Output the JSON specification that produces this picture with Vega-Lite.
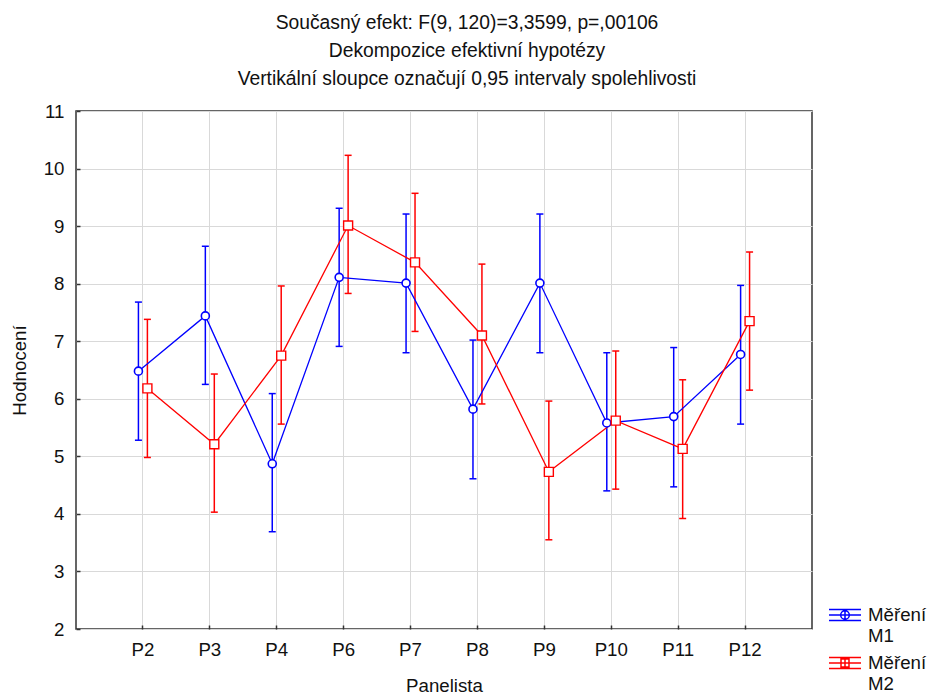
{
  "$schema": "https://vega.github.io/schema/vega-lite/v6.json",
  "width": 736,
  "height": 518,
  "autosize": {"type": "none"},
  "padding": {"left": 76, "top": 111, "right": 119, "bottom": 68},
  "background": "white",
  "config": {
    "font": "Liberation Sans",
    "view": {"stroke": "#333333", "strokeWidth": 1.5},
    "axis": {
      "domain": false,
      "gridColor": "#d9d9d9",
      "gridWidth": 1,
      "labelFontSize": 18.7,
      "labelColor": "#111111",
      "titleFontSize": 18.7,
      "titleFontWeight": "normal",
      "titleColor": "#111111",
      "tickColor": "#333333",
      "tickSize": -4,
      "tickWidth": 1.5
    }
  },
  "title": {
    "text": ["Současný efekt: F(9, 120)=3,3599, p=,00106", "Dekompozice efektivní hypotézy", "Vertikální sloupce označují 0,95 intervaly spolehlivosti"],
    "fontSize": 19.3,
    "fontWeight": "normal",
    "color": "#111111",
    "lineHeight": 28,
    "offset": 13,
    "dx": 23
  },
  "data": {
    "values": [
      {"panel": "P2", "series": "M1", "mean": 6.48, "lo": 5.28, "hi": 7.68},
      {"panel": "P3", "series": "M1", "mean": 7.44, "lo": 6.25, "hi": 8.65},
      {"panel": "P4", "series": "M1", "mean": 4.87, "lo": 3.69, "hi": 6.09},
      {"panel": "P6", "series": "M1", "mean": 8.11, "lo": 6.91, "hi": 9.31},
      {"panel": "P7", "series": "M1", "mean": 8.01, "lo": 6.80, "hi": 9.21},
      {"panel": "P8", "series": "M1", "mean": 5.82, "lo": 4.61, "hi": 7.02},
      {"panel": "P9", "series": "M1", "mean": 8.01, "lo": 6.80, "hi": 9.21},
      {"panel": "P10", "series": "M1", "mean": 5.58, "lo": 4.40, "hi": 6.80},
      {"panel": "P11", "series": "M1", "mean": 5.69, "lo": 4.47, "hi": 6.89},
      {"panel": "P12", "series": "M1", "mean": 6.77, "lo": 5.56, "hi": 7.97},
      {"panel": "P2", "series": "M2", "mean": 6.18, "lo": 4.98, "hi": 7.38},
      {"panel": "P3", "series": "M2", "mean": 5.21, "lo": 4.03, "hi": 6.43},
      {"panel": "P4", "series": "M2", "mean": 6.75, "lo": 5.56, "hi": 7.96},
      {"panel": "P6", "series": "M2", "mean": 9.01, "lo": 7.83, "hi": 10.23},
      {"panel": "P7", "series": "M2", "mean": 8.37, "lo": 7.17, "hi": 9.57},
      {"panel": "P8", "series": "M2", "mean": 7.10, "lo": 5.91, "hi": 8.34},
      {"panel": "P9", "series": "M2", "mean": 4.73, "lo": 3.55, "hi": 5.96},
      {"panel": "P10", "series": "M2", "mean": 5.62, "lo": 4.43, "hi": 6.83},
      {"panel": "P11", "series": "M2", "mean": 5.13, "lo": 3.92, "hi": 6.33},
      {"panel": "P12", "series": "M2", "mean": 7.35, "lo": 6.15, "hi": 8.55}
    ]
  },
  "encoding": {
    "x": {
      "field": "panel",
      "type": "nominal",
      "sort": ["P2", "P3", "P4", "P6", "P7", "P8", "P9", "P10", "P11", "P12"],
      "scale": {"type": "band", "paddingInner": 0, "paddingOuter": 0.5, "domain": ["P2", "P3", "P4", "P6", "P7", "P8", "P9", "P10", "P11", "P12"]},
      "axis": {"title": "Panelista", "labelAngle": 0, "bandPosition": 0.5, "labelPadding": 15, "titlePadding": 18, "grid": true}
    }
  },
  "layer": [
    {
      "transform": [{"filter": "datum.series == 'M1'"}],
      "mark": {"type": "rule", "color": "#0000ff", "strokeWidth": 1.5},
      "encoding": {
        "x": {"field": "panel", "type": "nominal", "bandPosition": 0.433},
        "y": {"field": "lo", "type": "quantitative", "scale": {"domain": [2, 11], "nice": false}, "axis": {"title": "Hodnocení", "values": [2, 3, 4, 5, 6, 7, 8, 9, 10, 11], "format": "d", "labelPadding": 16, "titlePadding": 14}},
        "y2": {"field": "hi"}
      }
    },
    {
      "transform": [{"filter": "datum.series == 'M1'"}],
      "mark": {"type": "point", "shape": "M-1,0H1", "size": 49, "color": "#0000ff", "strokeWidth": 1.5, "opacity": 1},
      "encoding": {
        "x": {"field": "panel", "type": "nominal", "bandPosition": 0.433},
        "y": {"field": "lo", "type": "quantitative"}
      }
    },
    {
      "transform": [{"filter": "datum.series == 'M1'"}],
      "mark": {"type": "point", "shape": "M-1,0H1", "size": 49, "color": "#0000ff", "strokeWidth": 1.5, "opacity": 1},
      "encoding": {
        "x": {"field": "panel", "type": "nominal", "bandPosition": 0.433},
        "y": {"field": "hi", "type": "quantitative"}
      }
    },
    {
      "transform": [{"filter": "datum.series == 'M2'"}],
      "mark": {"type": "rule", "color": "#ff0000", "strokeWidth": 1.5},
      "encoding": {
        "x": {"field": "panel", "type": "nominal", "bandPosition": 0.567},
        "y": {"field": "lo", "type": "quantitative"},
        "y2": {"field": "hi"}
      }
    },
    {
      "transform": [{"filter": "datum.series == 'M2'"}],
      "mark": {"type": "point", "shape": "M-1,0H1", "size": 49, "color": "#ff0000", "strokeWidth": 1.5, "opacity": 1},
      "encoding": {
        "x": {"field": "panel", "type": "nominal", "bandPosition": 0.567},
        "y": {"field": "lo", "type": "quantitative"}
      }
    },
    {
      "transform": [{"filter": "datum.series == 'M2'"}],
      "mark": {"type": "point", "shape": "M-1,0H1", "size": 49, "color": "#ff0000", "strokeWidth": 1.5, "opacity": 1},
      "encoding": {
        "x": {"field": "panel", "type": "nominal", "bandPosition": 0.567},
        "y": {"field": "hi", "type": "quantitative"}
      }
    },
    {
      "transform": [{"filter": "datum.series == 'M1'"}],
      "mark": {"type": "line", "color": "#0000ff", "strokeWidth": 1.3},
      "encoding": {
        "x": {"field": "panel", "type": "nominal", "bandPosition": 0.433},
        "y": {"field": "mean", "type": "quantitative"}
      }
    },
    {
      "transform": [{"filter": "datum.series == 'M2'"}],
      "mark": {"type": "line", "color": "#ff0000", "strokeWidth": 1.3},
      "encoding": {
        "x": {"field": "panel", "type": "nominal", "bandPosition": 0.567},
        "y": {"field": "mean", "type": "quantitative"}
      }
    },
    {
      "transform": [{"filter": "datum.series == 'M1'"}],
      "mark": {"type": "point", "shape": "circle", "size": 64, "stroke": "#0000ff", "fill": "white", "filled": true, "strokeWidth": 1.6, "opacity": 1},
      "encoding": {
        "x": {"field": "panel", "type": "nominal", "bandPosition": 0.433},
        "y": {"field": "mean", "type": "quantitative"}
      }
    },
    {
      "transform": [{"filter": "datum.series == 'M2'"}],
      "mark": {"type": "point", "shape": "square", "size": 81, "stroke": "#ff0000", "fill": "white", "filled": true, "strokeWidth": 1.4, "opacity": 1},
      "encoding": {
        "x": {"field": "panel", "type": "nominal", "bandPosition": 0.567},
        "y": {"field": "mean", "type": "quantitative"}
      }
    },
    {
      "transform": [{"filter": "false"}],
      "mark": {"type": "point", "filled": false, "strokeWidth": 1.5, "opacity": 1},
      "encoding": {
        "x": {"field": "panel", "type": "nominal", "bandPosition": 0.5},
        "y": {"field": "mean", "type": "quantitative"},
        "color": {
          "field": "series", "type": "nominal",
          "scale": {"domain": ["M1", "M2"], "range": ["#0000ff", "#ff0000"]},
          "legend": {
            "title": null,
            "orient": "none",
            "legendX": 752,
            "legendY": 487,
            "labelExpr": "['Měření', datum.label]",
            "labelFontSize": 18.7,
            "labelColor": "#111111",
            "labelLimit": 200,
            "labelOffset": 6,
            "symbolSize": 1024,
            "symbolStrokeWidth": 1.5,
            "rowPadding": 0
          }
        },
        "shape": {
          "field": "series", "type": "nominal",
          "scale": {"domain": ["M1", "M2"], "range": ["M-1,-0.34H1M-1,0.34H1M-1,0H1M0,-0.34V0.34M0.27,0A0.27,0.27,0,1,1,-0.27,0A0.27,0.27,0,1,1,0.27,0", "M-1,-0.34H1M-1,0.34H1M-1,0H1M0,-0.34V0.34M-0.25,-0.25H0.25V0.25H-0.25Z"]},
          "legend": {
            "title": null,
            "orient": "none",
            "legendX": 752,
            "legendY": 487,
            "labelExpr": "['Měření', datum.label]",
            "labelFontSize": 18.7,
            "labelColor": "#111111",
            "labelLimit": 200,
            "labelOffset": 6,
            "symbolSize": 1024,
            "symbolStrokeWidth": 1.5,
            "rowPadding": 0
          }
        }
      }
    }
  ]
}
